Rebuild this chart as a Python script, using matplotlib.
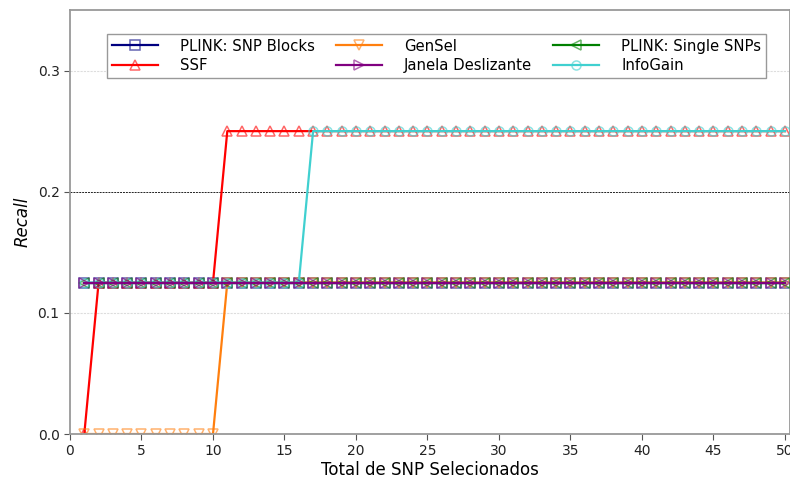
import numpy as np
from matplotlib import pyplot as plt
from matplotlib.colors import to_rgba

# numero de SNPs selecionados
n_snps = np.arange(1, 51)

# recall de cada metodo
plink_blocks = [0.125] * 50
ssf = [0.0] + [0.125] * 9 + [0.25] * 40
gensel = [0.0] * 10 + [0.125] * 40
janela = [0.125] * 50
plink_single = [0.125] * 50
infogain = [0.125] * 16 + [0.25] * 34

series = [
    ('PLINK: SNP Blocks', plink_blocks, '#000080', 's', 2),
    ('SSF', ssf, '#ff0000', '^', 2),
    ('GenSel', gensel, '#ff7f0e', 'v', 2),
    ('Janela Deslizante', janela, '#800080', '>', 4),
    ('PLINK: Single SNPs', plink_single, '#008000', '<', 3),
    ('InfoGain', infogain, '#40d0d0', 'o', 3),
]

fig = plt.figure(figsize=(7.9, 4.8), dpi=100)
ax = fig.add_axes([0.0886, 0.0958, 0.9114, 0.8834])

for nome, vals, cor, mk, z in series:
    ax.plot(n_snps, vals, color=cor, lw=1.6, marker=mk, markersize=6.5,
            markerfacecolor='none', markeredgecolor=to_rgba(cor, 0.6),
            markeredgewidth=1.1, label=nome, zorder=z)

ax.set_xlim(0, 50.35)
ax.set_ylim(0, 0.35)
ax.set_xticks(np.arange(0, 51, 5))
ax.set_yticks([0.0, 0.1, 0.2, 0.3])
ax.set_yticklabels(['0.0', '0.1', '0.2', '0.3'])

# grade horizontal clara + linha de referencia em 0.2
for yv in [0.1, 0.3]:
    ax.axhline(yv, color='#dddddd', lw=0.8, ls=(0, (2, 1)), zorder=0)
ax.axhline(0.2, color='#222222', lw=0.7, ls=(0, (2, 1)), zorder=0)

for s in ['left', 'bottom', 'top', 'right']:
    ax.spines[s].set_color('#999999')
    ax.spines[s].set_linewidth(1.3)
ax.tick_params(colors='#555555', labelcolor='#222222', labelsize=10, length=4)

ax.set_xlabel('Total de SNP Selecionados', fontsize=12, labelpad=2)
ax.set_ylabel('Recall', fontsize=12, style='italic')

leg = ax.legend(loc='upper center', bbox_to_anchor=(0.509, 0.943), ncol=3,
                fontsize=10.7, handlelength=3.1, handletextpad=1.5,
                fancybox=False, edgecolor='#999999', framealpha=1.0,
                borderpad=0.3, borderaxespad=0.0, labelspacing=0.3,
                columnspacing=1.4)

fig.savefig('out.png', dpi=100)
